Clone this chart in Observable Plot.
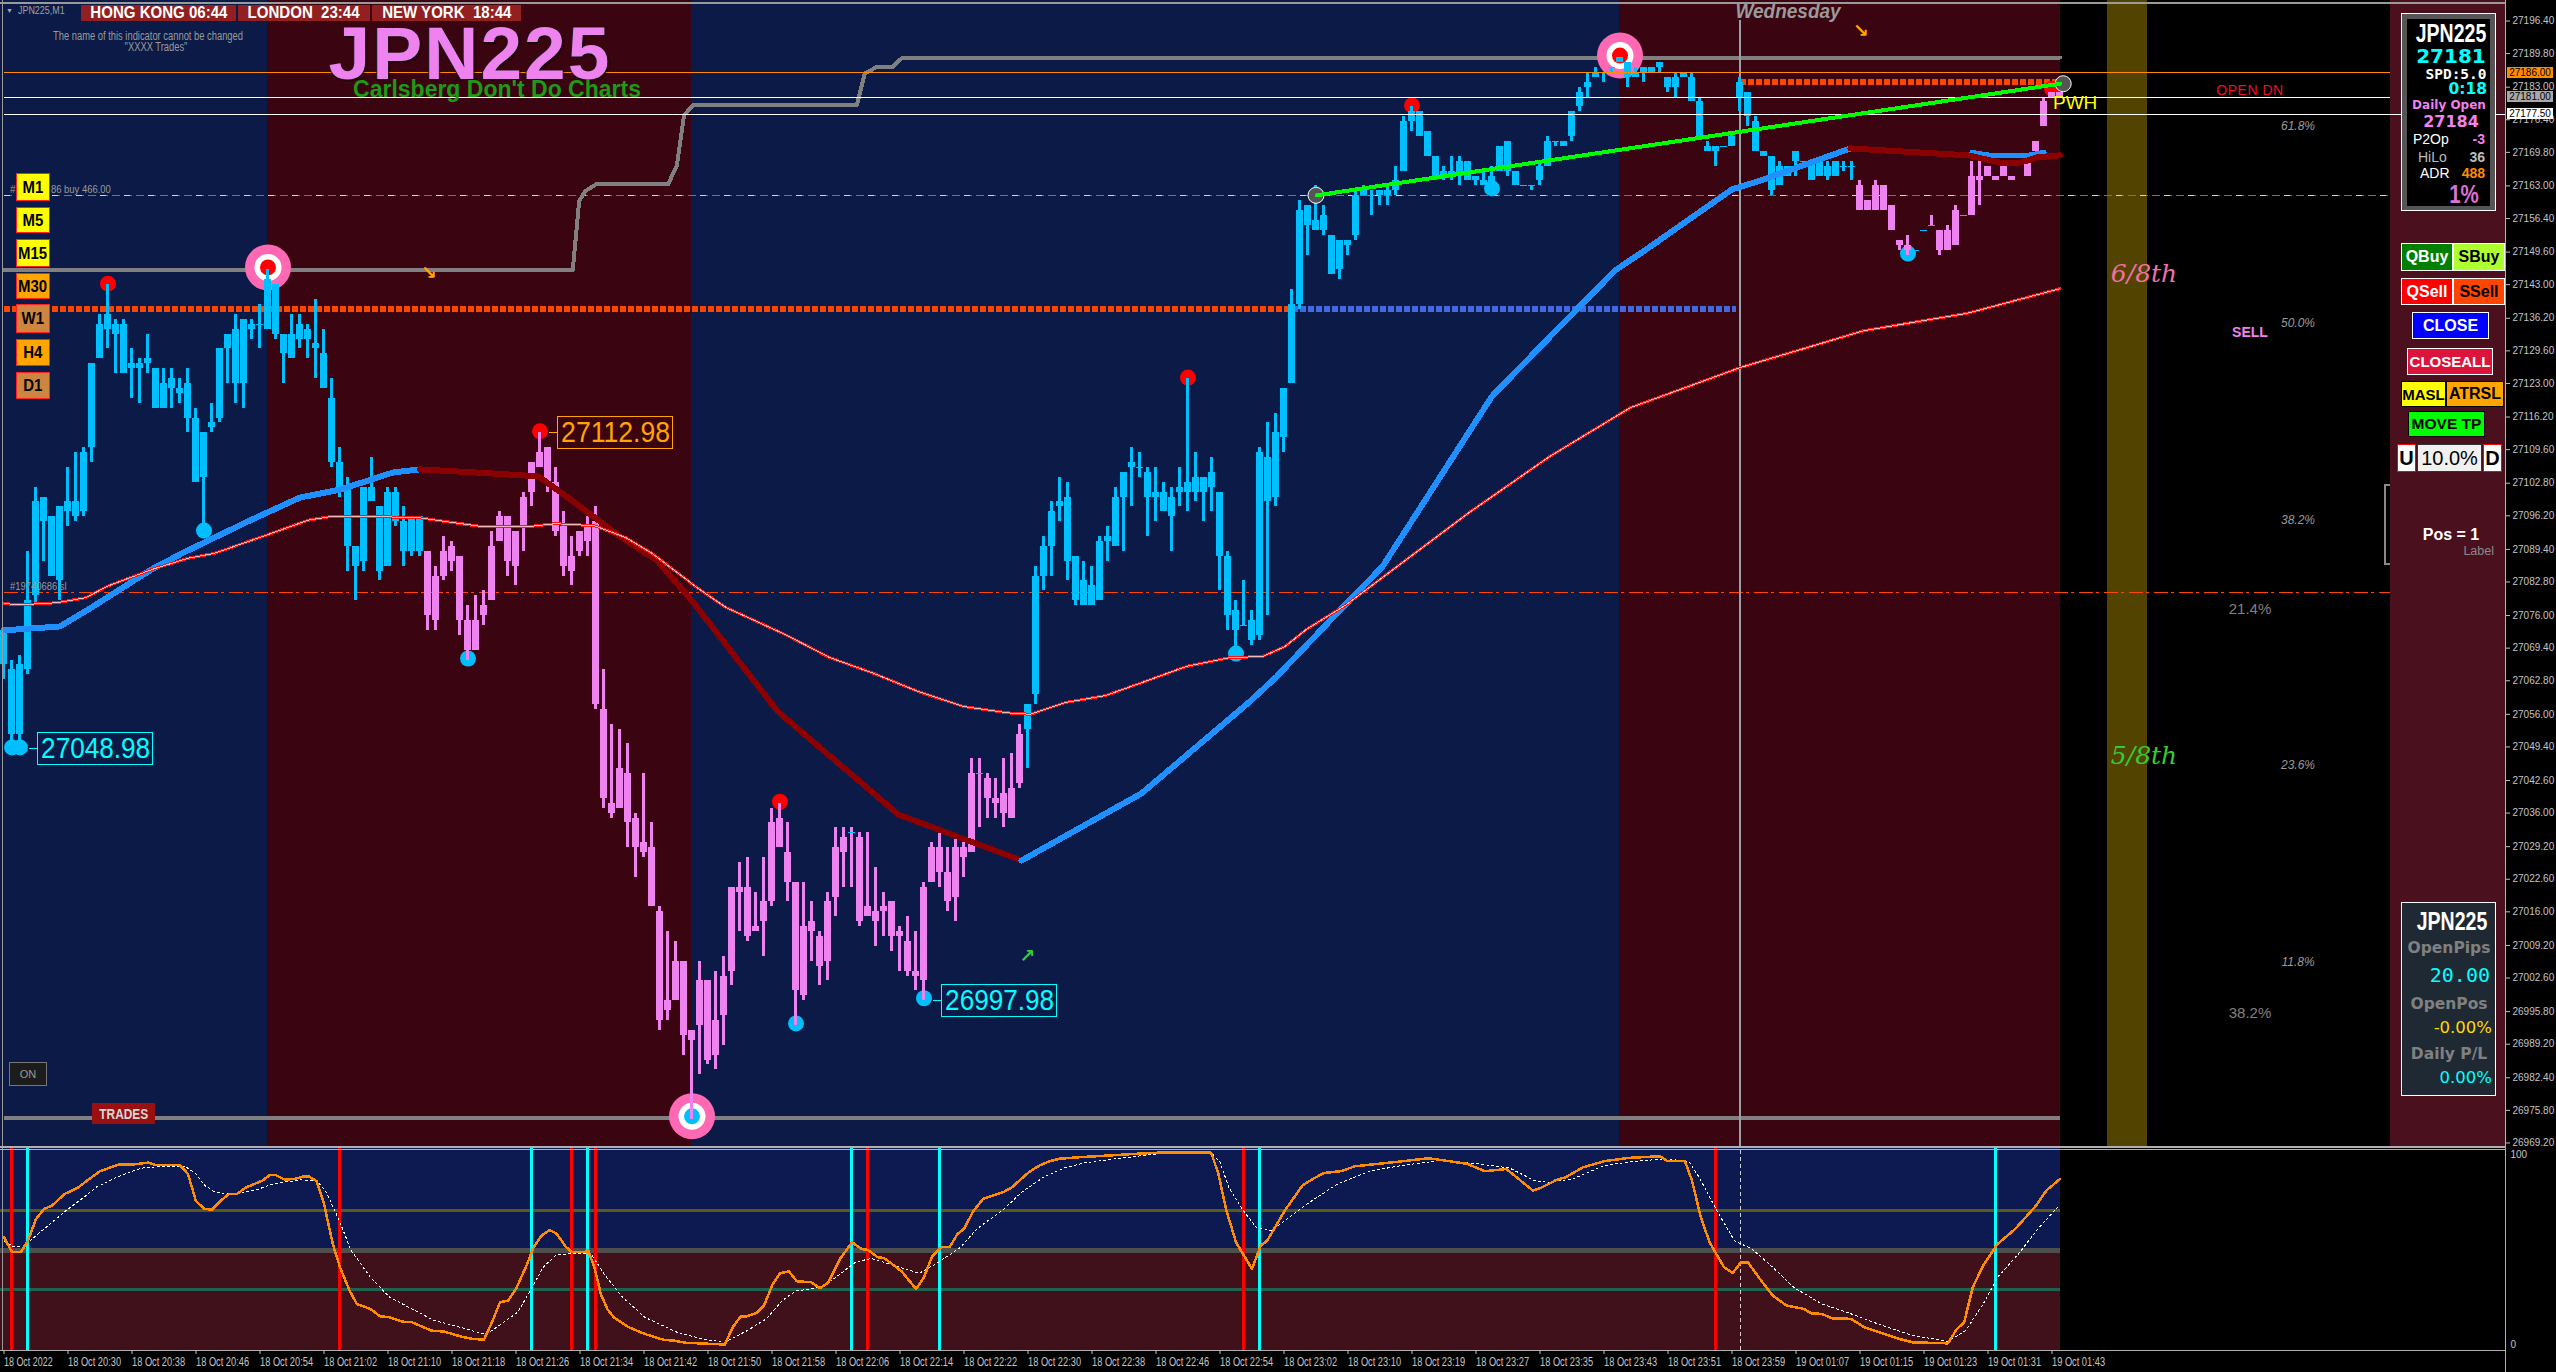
<!DOCTYPE html>
<html><head><meta charset="utf-8">
<script src="https://cdn.jsdelivr.net/npm/d3@7"></script>
<script src="https://cdn.jsdelivr.net/npm/@observablehq/plot@0.6"></script>
<style>
html,body{margin:0;padding:0;background:#000;width:2556px;height:1372px;overflow:hidden}
#root{position:relative;width:2556px;height:1372px;font-family:"Liberation Sans",Arial,sans-serif}
#root svg{position:absolute;left:0;background:transparent}
.t{position:absolute;white-space:pre;line-height:1}
.b{position:absolute;box-sizing:border-box;display:flex;align-items:center;justify-content:center;white-space:pre;line-height:1}
.b span{display:inline-block}
</style></head><body><div id="root"></div>
<script>
// ---- values are points above this base price
const priceBase = 27000;
const highs = [73,67,68,89,102,100,96,98,106,109,
110,127,137,143,136,136,130,128,133,126,
126,126,124,126,118,113,119,130,133,137,
136,136,139,146,143,133,137,137,135,140,
134,124,110,104,90,102,108,98,102,102,
98,96,96,89,86,92,91,88,78,80,
81,93,97,96,93,101,107,113,110,106,
97,92,93,96,98,65,54,53,50,36,
44,34,17,12,10,6,-8,6,2,4,
7,21,26,27,20,27,37,38,34,22,
22,18,12,20,33,33,33,32,32,25,
20,18,13,15,12,22,30,32,29,31,
30,47,47,44,43,47,48,54,58,86,
92,99,104,103,88,87,86,92,94,102,
105,110,109,106,106,103,102,106,124,109,
104,108,101,89,79,83,77,110,115,117,
122,142,160,159,163,159,153,152,152,162,
163,162,162,163,167,177,179,178,174,169,
167,169,169,168,165,166,167,171,172,166,
163,163,168,173,172,172,178,183,186,187,
186,187,189,188,187,187,187,188,185,186,
186,186,181,172,171,171,174,185,182,177,
170,169,168,167,170,168,168,168,168,168,
168,168,164,160,164,163,159,152,153,150,
154,157,154,155,159,157,168,170,167,165,
167,165,169,168,172,181,182,182];
const bodyTops = [73,65,66,79,99,100,96,98,99,99,
109,127,135,137,135,135,127,127,128,126,
123,124,122,123,116,113,115,130,133,134,
136,135,135,144,143,133,133,135,134,131,
129,120,107,102,90,102,102,98,101,101,
95,96,96,89,84,89,90,88,75,75,
78,90,96,96,93,100,107,109,110,103,
94,88,93,94,95,57,38,45,44,35,
30,29,16,-2,6,6,-8,2,2,-6,
3,21,21,21,13,18,34,35,28,22,
13,14,11,18,29,31,32,31,17,16,
17,18,12,10,4,21,29,29,24,29,
29,44,44,43,39,40,41,52,58,84,
90,97,99,100,88,83,82,91,92,100,
105,107,106,105,101,101,100,102,103,104,
104,105,101,88,77,74,75,109,108,113,
122,139,158,159,156,157,153,152,152,161,
162,161,162,162,164,176,178,178,174,169,
166,166,168,168,165,164,165,171,172,166,
163,163,167,172,172,172,178,182,184,186,
186,187,189,188,186,187,187,188,185,185,
186,185,180,171,171,171,173,184,182,176,
170,169,167,167,170,168,168,168,167,168,
167,167,163,160,163,163,159,152,151,150,
154,155,154,154,158,157,165,165,167,165,
167,165,169,168,172,180,182,182];
const bodyBottoms = [66,52,52,65,80,95,84,83,97,96,
97,110,128,134,133,125,126,126,127,118,
118,122,121,116,103,104,114,116,130,123,
123,134,135,134,133,129,128,132,132,130,
122,107,101,90,86,87,99,85,86,95,
89,89,89,76,75,84,87,75,69,69,
76,79,91,87,86,94,101,106,103,93,
86,85,89,91,58,39,36,37,34,29,
28,17,-6,-4,-2,-9,-10,-7,-14,-13,
-5,4,20,11,12,14,18,29,22,0,
-1,12,5,6,19,28,32,14,15,14,
16,11,11,4,3,2,22,24,18,19,
27,28,44,39,38,36,35,42,53,60,
84,90,98,87,79,78,78,79,91,90,
100,106,106,100,100,97,96,101,101,101,
101,102,88,76,73,74,71,72,99,100,
112,123,139,155,154,154,145,146,151,153,
161,161,161,161,162,166,176,173,169,165,
165,165,165,164,164,163,163,166,166,163,
163,163,164,167,172,171,173,179,183,185,
186,187,188,185,185,186,186,187,183,183,
185,180,173,170,170,171,171,181,177,170,
169,162,163,165,168,168,164,165,165,165,
167,167,158,158,158,158,154,151,150,150,
154,155,150,150,151,157,157,164,165,164,
165,164,169,165,170,175,181,181];
const lows = [63,49,49,64,78,87,84,79,94,95,
96,107,128,130,125,125,120,119,125,118,
118,118,119,113,103,93,113,115,123,119,
118,132,130,134,132,123,128,130,128,124,
122,106,100,85,79,85,99,83,86,94,
86,88,88,73,73,83,85,72,67,69,
74,79,91,84,82,89,98,106,101,92,
84,82,88,88,57,37,35,37,29,23,
27,17,-8,-6,-2,-13,-26,-17,-15,-16,
-11,1,12,10,12,7,17,29,18,-7,
-2,6,1,2,15,21,21,13,15,9,
11,8,4,3,0,-2,22,21,16,14,
23,28,33,35,35,33,35,41,45,58,
81,84,95,83,78,78,78,79,87,90,
89,98,104,92,95,97,89,98,97,99,
95,97,81,73,69,74,70,71,76,98,
109,123,138,149,154,153,145,144,149,152,
161,157,159,159,161,166,174,173,169,164,
164,164,163,164,163,163,161,166,165,163,
163,162,163,167,171,171,172,178,181,185,
184,186,188,183,185,184,186,186,182,181,
185,180,173,170,167,171,171,178,175,170,
169,161,163,165,165,168,164,165,164,165,
166,164,158,158,158,158,154,150,149,150,
154,155,149,150,151,157,157,159,165,164,
165,164,169,165,170,175,181,181];
const bearRuns = [[53,127],[232,257]];

// moving averages: bar position / points above base
const stepK = [0,71.1,71.9,72.7,74,83,84.1,85,86.1,106.6,107.6,109,111,112.3,257];
const stepP = [146,146,160,162,163.3,163.3,167.1,177.3,179.3,179.3,185.8,187,187,189,189];
const fastUp1K = [0,7,10.7,18.6,22.5,30.8,37,42,48.7,52];
const fastUp1P = [73,73.8,77.4,85.5,88.8,95.3,99.9,101.5,105,105.6];
const fastDn1K = [52,58.7,66.8,71,77,81.6,86,96.7,104.8,111.8,127.2];
const fastDn1P = [105.6,105,104.2,99.3,92,87.2,79,56.6,45.4,35.7,26.4];
const fastUp2K = [127.2,142.2,155.6,159,167.3,172.3,186,194,201.4,205.6,212.2,216,219.6,230.8];
const fastUp2P = [26.4,40,58.4,63.5,77.6,85.9,120.4,133.7,145.9,150.5,158,162.3,164.1,170.6];
const fastDn2K = [230.8,245.5,249.6,252,254.2,257];
const fastDn2P = [170.6,169.2,167.7,167.7,168.8,169.2];
const fastUp3K = [246,248.3,253,255];
const fastUp3P = [169.8,169.2,169.2,169.8];
const slowK = [0,2.3,6.6,10.2,13,18.8,23,26.3,33,38,41,51.5,59.8,65.5,68.9,73.8,77.7,81,86.6,89,90.3,97.6,103.2,108.7,114.3,119.9,125.5,128.3,132.7,137.7,142.2,147.8,153.3,157.3,160.1,162.8,167.8,183,193.2,203.3,217,232.5,245.4,257];
const slowP = [78.4,78.2,78.6,79.6,82,85.5,87.6,88.6,92.4,95.3,96.1,95.9,94,94,94.6,94.2,91.8,88.6,81.7,79,77.6,72.2,67.5,64.3,60.6,57.6,56.3,56,58.4,59.8,62.4,65.7,67.5,67.7,69.7,73.2,78.2,96.7,108.2,118.1,126.2,133.7,137.2,142.2];
const trendK = [164.1,257];
const trendP = [161.1,183.7];

// levels (points above base)
const supportLevel = 138, resistanceLevel = 184, ceilingLevel = 186, whiteLevels = [181,177.5];
const buyLevel = 161, stopLevel = 80.6, floorLevel = -25.8;

// swing markers
const redDotK = [13,67,97,148,176,256];
const redDotP = [143.2,113.3,38.3,124.2,179.3,182.7];
const blueDotK = [1,2,25,58,99,115,154,186,238];
const blueDotP = [49.3,49.3,93.2,67.3,-6.6,-1.5,68.3,162.5,149.3];
const ringK = [33,86,202];
const ringP = [146.5,-25.4,189.4];
const ringCore = ["#ff0000","#00bfff","#ff0000"];
const valueLabelK = [67,2,115];
const valueLabelP = [112.98,48.98,-2.02];
const valueLabelColor = ["#ffa500","#00ffff","#00ffff"];

const sessionStart = [-0.4375,32.9,85.9,201.9];
const sessionEnd = [32.9,85.9,201.9,257];
const sessionFill = ["#0b1a46","#3a0410","#0b1a46","#3a0410"];

const priceTicks = [27196.4,27189.8,27183,27176.4,27169.8,27163,27156.4,27149.6,27143,27136.2,27129.6,27123,27116.2,27109.6,27102.8,27096.2,27089.4,27082.8,27076,27069.4,27062.8,27056,27049.4,27042.6,27036,27029.2,27022.6,27016,27009.2,27002.6,26995.8,26989.2,26982.4,26975.8,26969.2];
const timeLabels = ["18 Oct 2022","18 Oct 20:30","18 Oct 20:38","18 Oct 20:46","18 Oct 20:54","18 Oct 21:02","18 Oct 21:10","18 Oct 21:18","18 Oct 21:26","18 Oct 21:34","18 Oct 21:42","18 Oct 21:50","18 Oct 21:58","18 Oct 22:06","18 Oct 22:14","18 Oct 22:22","18 Oct 22:30","18 Oct 22:38","18 Oct 22:46","18 Oct 22:54","18 Oct 23:02","18 Oct 23:10","18 Oct 23:19","18 Oct 23:27","18 Oct 23:35","18 Oct 23:43","18 Oct 23:51","18 Oct 23:59","19 Oct 01:07","19 Oct 01:15","19 Oct 01:23","19 Oct 01:31","19 Oct 01:43"];

// oscillator
const oscK = [0,1,2.1,3,4,5,6,7.6,9.2,10.4,12,13.1,14.3,16,18,19.1,22,23,24,25.1,26,27.1,28.1,29.1,30.3,32.3,33.2,34,35.1,36.3,37.5,38.1,39.1,40,41.1,42,43.2,44.1,45.8,47,48.2,49.8,51,53.4,55,57.4,58.6,60,61,62,63,64,65.4,66.2,67.2,68.2,69.1,70.2,71,72.6,73,73.8,74.6,75.4,76.3,78.1,80.1,82.5,83.7,85.3,86.9,90.1,91.1,92.1,92.9,94.1,95,96.1,97,98.1,99.1,100.9,102,103,104.5,106,107.2,108,109.2,110,112.2,114,115,116,117.2,118.2,119.2,120,121.2,122.4,125,125.9,128.1,129.4,130.7,132,135.1,138.6,141.3,144.3,150.9,151.8,152.8,154,156,157.1,157.9,160.1,162.3,163.6,165,167.1,168.9,173.7,178.1,180.7,182.9,185.1,187.8,191.1,192.1,193.9,195.2,197.4,200,203.1,207,207.9,210.1,211,212.1,213.2,215,216.1,217.1,218,219.8,221.1,222.8,225,225.9,227.2,228.5,230.9,232.5,233.8,236.9,238.6,243,244.1,245,246.1,247.4,249.2,251.4,252.7,254,255.3,257];
const oscV = [56.4,48.9,48.9,54.7,65.6,70.6,72.3,78.2,81.2,84.9,89.6,91.2,92.9,92.9,93.9,92.6,92.6,88.2,74.5,70.6,70.3,74.8,78,78.2,81.5,84.9,87.6,87.6,85.4,85.7,87,87,84.5,73.2,53,41.3,29.6,22.9,20.4,16.7,16.2,14,13.7,9.5,9,6.2,5.3,5,13.7,23.7,24.6,30.4,43,51.4,57.2,60.1,58.1,51.7,48.9,48.9,50,41.3,27.9,20.4,15.9,11.2,7.8,4.8,4.5,3.3,3.1,2.5,11.2,16.7,16.7,18.4,22.1,33,38.3,39.3,34.3,33.8,30.8,33.5,45.5,53.9,50.5,50,46.4,46,39.3,30.4,36.3,46.7,51.4,51.4,58.1,60.6,69.8,75.7,79.3,81.2,89.1,92.4,94.6,95.9,96.8,97.6,98.3,98.9,98.9,88.2,69.8,53.9,40.5,52.2,54.7,69.8,82.4,85.7,88.7,89.6,92.1,94.1,96.1,94.6,93.3,89.6,90.7,79.9,81.2,84.9,86.6,91.6,94.6,96.3,97.1,94.8,94.8,84.9,66.4,53.9,41.3,38.5,43.7,43.7,33.8,27.1,22.1,20.4,18.2,17.9,15.7,15.4,11.2,9.5,5.3,3.6,3.1,10.3,13.4,31.3,42.2,53,60.6,66.4,72.3,79.9,85.7];
const sigK = [0,1.2,2.4,4,6,8,10,11.5,14,17.1,19.5,22.7,24,25.1,26.3,27.5,29.5,31.5,33.9,37.1,39.1,40.3,41.9,43.4,45.8,48.2,50.6,53.8,57,60.2,62.2,64.2,65.8,67.4,69,71.4,73.4,75,77.3,80.1,84.1,87.3,90.1,92.9,95.3,97.3,98.9,102,104,106.4,108.4,111.2,114.4,116.8,119.6,121.6,125,127.2,129.9,132.5,135.1,139.5,144.8,150.9,152,153.1,154.9,156.6,158.4,160.1,163.2,166.7,170.7,174.6,179.4,184.2,188.2,191.3,193,196.1,200,203.5,207.5,210.6,211.9,214.1,216.3,218.5,221.1,223.7,227.2,230.7,234.2,238.6,243,245.2,247.4,249.2,251.8,254.4,257];
const sigV = [54.2,51.7,51.4,57.2,63.9,70.6,76.5,81.5,86.5,91.1,91.9,91.9,88.2,82.4,79.3,78.2,78.5,80.2,83.5,85.2,84.9,79,64.8,49.7,36.3,26.3,21.2,14.5,11.2,7.5,12.9,18.7,29.6,41.3,47.5,48.4,48,38,26.3,16.2,8.7,5.3,3.6,9.5,15.4,24.6,29.3,31.3,36.3,43.8,45.8,42.2,38.3,43.8,51.4,60.6,70.6,79,86.5,91.2,93.8,96.1,98.6,98.9,94.1,81.5,69.8,61.1,59.8,64.8,74,83.2,89.6,92.4,94.9,93.3,91.2,84.9,84,85.7,92.4,94.4,95.8,94.6,86.5,69.8,54.7,50.5,41.3,31.3,22.9,18.2,12.9,7,4.1,9.5,22.9,36.3,48,61.4,72.8];
const redSignals = [1,42,71,74,108,155,214];
const cyanSignals = [3,66,73,106,117,157,249];
const oscLevels = [70,50,30];
const oscLevelColor = ["#5a5a14","#4e4e4e","#1d6350"];
const oscLevelWidth = [3,5,3];

// ---- scales shared by both panels
const xDomain = [-0.4375, 312.6875], xRange = [0, 2505];
const price = d => priceBase + d;
const pts = (xs, ys) => xs.map((x, i) => ({x, y: price(ys[i])}));
const bars = highs.map((_, k) => ({k, high: price(highs[k]), low: price(lows[k]), top: price(bodyTops[k]), bot: price(bodyBottoms[k]),
  bear: bearRuns.some(([a, b]) => k >= a && k <= b)}));
const bull = bars.filter(d => !d.bear), bear = bars.filter(d => d.bear);
const doji = bars.filter(d => d.top === d.bot);
const yTop = 27200.55, yBot = 26968.08, chartEnd = 257, xLines = 298.3;
const crisp = {shapeRendering: "crispEdges"};
const line = (xs, ys, stroke, strokeWidth, extra) => Plot.line(pts(xs, ys), {x: "x", y: "y", stroke, strokeWidth, strokeLinejoin: "round", ...crisp, ...extra});
const hline = (p, x1, x2, stroke, strokeWidth, extra) => Plot.ruleY([price(p)], {x1, x2, stroke, strokeWidth, ...crisp, ...extra});
const candles = (data, fill) => [
  Plot.ruleX(data, {x: "k", y1: "low", y2: "high", stroke: fill, strokeWidth: 3, dx: -0.5, ...crisp}),
  Plot.rect(data.filter(d => d.top !== d.bot), {x1: d => d.k - 0.4375, x2: d => d.k + 0.4375, y1: "bot", y2: "top", fill, ...crisp})
];
const F = "Liberation Sans";

const main = Plot.plot({
  width: 2556, height: 1148, marginTop: 0, marginLeft: 0, marginBottom: 0, marginRight: 51,
  x: {domain: xDomain, range: xRange, axis: null},
  y: {domain: [yTop, yBot], range: [0, 1148], axis: null},
  style: {background: "transparent", fontFamily: F},
  marks: [
    Plot.rect(sessionStart.map((s, i) => ({s, e: sessionEnd[i], c: sessionFill[i]})), {x1: "s", x2: "e", y1: yBot, y2: yTop, fill: d => d.c, ...crisp}),
    Plot.rect([0], {x1: 262.9, x2: 267.9, y1: yBot, y2: yTop, fill: "#524400", ...crisp}),
    Plot.rect([0], {x1: 298.3, x2: 312.6875, y1: yBot, y2: yTop, fill: "#4a101e", ...crisp}),
    hline(buyLevel, 0, xLines, "#3f9a3f", 1, {strokeDasharray: "8,4"}),
    hline(buyLevel, 0, xLines, "#e8e840", 1, {strokeDasharray: "6,18"}),
    hline(stopLevel, 0, xLines, "#ff4500", 1, {strokeDasharray: "14,3,3,5"}),
    hline(floorLevel, 0, chartEnd, "#808080", 4),
    line(stepK, stepP, "#808080", 4),
    Plot.ruleX([217], {y1: yBot, y2: price(196.4), stroke: "#9aa0a8", strokeWidth: 2, ...crisp}),
    hline(supportLevel, 0, 161, "#ff4500", 6, {strokeDasharray: "6,2"}),
    hline(supportLevel, 161, 216.5, "#4169e1", 6, {strokeDasharray: "6,2"}),
    hline(resistanceLevel, 217.1, chartEnd, "#ff4500", 6, {strokeDasharray: "6,2"}),
    Plot.dot(ringK.map((k, i) => ({k, p: price(ringP[i])})), {x: "k", y: "p", r: 23, fill: "#ff69b4"}),
    Plot.dot(ringK.map((k, i) => ({k, p: price(ringP[i])})), {x: "k", y: "p", r: 13.5, fill: "#fff"}),
    Plot.dot(ringK.map((k, i) => ({k, p: price(ringP[i]), c: ringCore[i]})), {x: "k", y: "p", r: 8, fill: d => d.c}),
    Plot.dot(pts(redDotK, redDotP), {x: "x", y: "y", r: 8, fill: "#ff0000"}),
    Plot.dot(pts(blueDotK, blueDotP), {x: "x", y: "y", r: 8, fill: "#00bfff"}),
    ...candles(bull, "#00bfff"),
    ...candles(bear, "#ee82ee"),
    Plot.ruleY(doji, {x1: d => d.k - 0.4375, x2: d => d.k + 0.4375, y: "top", stroke: "#00bfff", strokeWidth: 1, ...crisp}),
    hline(ceilingLevel, 0, xLines, "#ff8c00", 1),
    hline(whiteLevels[0], 0, xLines, "#ffffff", 1),
    hline(whiteLevels[1], 0, 312.6875, "#ffffff", 1),
    line(fastUp1K, fastUp1P, "#1e90ff", 6),
    line(fastDn1K, fastDn1P, "#8b0000", 6),
    line(fastUp2K, fastUp2P, "#1e90ff", 6),
    line(fastUp3K, fastUp3P, "#1e90ff", 5),
    line(fastDn2K, fastDn2P, "#8b0000", 6),
    line(slowK, slowP, "#ff1414", 3),
    line(slowK, slowP, "#f5b8b8", 1),
    Plot.dot(pts([164, 257.4], [161.1, 183.7]), {x: "x", y: "y", r: 8, fill: "#555", stroke: "#fff", strokeWidth: 1}),
    line(trendK, trendP, "#00ff00", 4),
    Plot.text(pts([53.1, 232.1], [145.3, 194.3]), {x: "x", y: "y", text: () => "↘", fill: "#ffa500", fontSize: 19, fontWeight: "bold", fontFamily: "DejaVu Sans"}),
    Plot.text(pts([127.9], [7]), {x: "x", y: "y", text: () => "↗", fill: "#32cd32", fontSize: 19, fontWeight: "bold", fontFamily: "DejaVu Sans"}),
    Plot.rect(valueLabelK.map((k, i) => ({k, p: price(valueLabelP[i]), c: valueLabelColor[i]})), {x1: d => d.k + 2.3, x2: d => d.k + 16.6, y1: d => d.p - 3.2, y2: d => d.p + 3.2, stroke: d => d.c, fill: "none", strokeWidth: 1, ...crisp}),
    Plot.link(valueLabelK.map((k, i) => ({k, p: price(valueLabelP[i]), c: valueLabelColor[i]})), {x1: d => d.k + 1.1, x2: d => d.k + 2.3, y1: "p", y2: "p", stroke: d => d.c, ...crisp}),
    Plot.text(valueLabelK.map((k, i) => ({k, p: price(valueLabelP[i]), c: valueLabelColor[i]})), {x: d => d.k + 9.45, y: "p", text: d => d.p.toFixed(2), fill: d => d.c, fontSize: 29, fontFamily: F}),
    Plot.ruleX([-0.2], {y1: yBot, y2: yTop, stroke: "#9a9a9a", strokeWidth: 1.5, ...crisp}),
    Plot.ruleY([yTop - 0.5], {x1: -0.4375, x2: 312.6875, stroke: "#9a9a9a", strokeWidth: 1.5, ...crisp}),
    Plot.ruleY([yBot + 0.35], {x1: -0.4375, x2: 312.6875, stroke: "#b0b0b0", strokeWidth: 2, ...crisp}),
    Plot.ruleX([312.6875], {y1: yBot, y2: yTop, stroke: "#b0b0b0", strokeWidth: 1.5, ...crisp}),
    Plot.axisY(priceTicks, {anchor: "right", tickSize: 4, tickPadding: 3, tickFormat: d => d.toFixed(2), fill: "#c4c4c4", stroke: "#c4c4c4", fontSize: 10, label: null})
  ]
});
main.style.top = "0px";

const sigPts = (xs, ys) => xs.map((x, i) => ({x, y: ys[i]}));
const osc = Plot.plot({
  width: 2556, height: 224, marginTop: 0, marginLeft: 0, marginBottom: 22, marginRight: 51,
  x: {domain: xDomain, range: xRange, axis: null},
  y: {domain: [100, 0], range: [2, 201], axis: null},
  style: {background: "transparent", fontFamily: F},
  marks: [
    Plot.rect([0], {x1: -0.4375, x2: chartEnd, y1: 50, y2: 101, fill: "#0d1a52", ...crisp}),
    Plot.rect([0], {x1: -0.4375, x2: chartEnd, y1: -0.5, y2: 50, fill: "#40101b", ...crisp}),
    ...oscLevels.map((v, i) => Plot.ruleY([v], {x1: -0.4375, x2: chartEnd, stroke: oscLevelColor[i], strokeWidth: oscLevelWidth[i], ...crisp})),
    Plot.ruleX(redSignals, {y1: -0.5, y2: 101, stroke: "#ff0000", strokeWidth: 2.5, dx: -0.5, ...crisp}),
    Plot.ruleX(cyanSignals, {y1: -0.5, y2: 101, stroke: "#00ffff", strokeWidth: 2.5, dx: -0.5, ...crisp}),
    Plot.ruleX([217], {y1: -0.5, y2: 101, stroke: "#d0d0d0", strokeWidth: 1, strokeDasharray: "4,3", ...crisp}),
    Plot.line(sigPts(sigK, sigV), {x: "x", y: "y", stroke: "#ffffff", strokeWidth: 1, strokeDasharray: "2,3", ...crisp}),
    Plot.line(sigPts(oscK, oscV), {x: "x", y: "y", stroke: "#ff8c00", strokeWidth: 2.5, ...crisp}),
    Plot.ruleX([-0.2], {y1: -0.5, y2: 101, stroke: "#9a9a9a", strokeWidth: 1.5, ...crisp}),
    Plot.ruleY([-0.5], {x1: -0.4375, x2: 312.6875, stroke: "#b0b0b0", strokeWidth: 1.5, ...crisp}),
    Plot.ruleY([100.4], {x1: -0.4375, x2: 312.6875, stroke: "#b0b0b0", strokeWidth: 1.5, ...crisp}),
    Plot.ruleX([312.6875], {y1: -30, y2: 101, stroke: "#b0b0b0", strokeWidth: 1.5, ...crisp}),
    Plot.text([100], {x: 313.3, y: 98, text: d => String(d), textAnchor: "start", fill: "#c4c4c4", fontSize: 10}),
    Plot.text([0], {x: 313.3, y: 2.5, text: d => String(d), textAnchor: "start", fill: "#c4c4c4", fontSize: 10}),
    Plot.axisX(timeLabels.map((_, i) => i * 8), {anchor: "bottom", tickSize: 4, tickPadding: 3, textAnchor: "start", tickFormat: d => timeLabels[d / 8], fill: "#c4c4c4", stroke: "#c4c4c4", fontSize: 12, label: null})
  ]
});
osc.style.top = "1148px";

const root = document.getElementById("root");
root.append(main, osc);

// condense the SVG labels: no narrow face is installed
main.querySelectorAll('g[aria-label="text"] text').forEach(el => {
  if (/^\d+\.\d\d$/.test(el.textContent)) { el.setAttribute("textLength", 109); el.setAttribute("lengthAdjust", "spacingAndGlyphs"); }
});
osc.querySelectorAll('g[aria-label="x-axis tick label"] text').forEach(el => {
  el.setAttribute("textLength", el.textContent.length * 4.42); el.setAttribute("lengthAdjust", "spacingAndGlyphs");
});

function T(text, x, y, o = {}) {
  const d = document.createElement("div");
  d.className = "t"; d.textContent = text;
  const a = o.a || "l";
  const ax = {l: "0", c: "-50%", r: "-100%"}[a];
  Object.assign(d.style, {left: x + "px", top: y + "px", transform: `translate(${ax},-50%) scaleX(${o.sx || 1})`,
    transformOrigin: {l: "0 50%", c: "50% 50%", r: "100% 50%"}[a], color: o.c || "#fff", fontSize: (o.s || 12) + "px",
    fontWeight: o.b ? "bold" : "normal", fontStyle: o.i ? "italic" : "normal", fontFamily: o.f || F, letterSpacing: o.ls || "normal",
    textShadow: o.sh || "none", lineHeight: o.lh || 1});
  root.append(d);
}
function B(x0, y0, x1, y1, bg, border, text, color, size, o = {}) {
  const d = document.createElement("div");
  d.className = "b";
  Object.assign(d.style, {left: x0 + "px", top: y0 + "px", width: (x1 - x0) + "px", height: (y1 - y0) + "px", background: bg,
    border: border ? `${o.bw || 1}px solid ${border}` : "none", color: color || "#000", fontSize: (size || 14) + "px",
    fontWeight: o.n ? "normal" : "bold", fontFamily: o.f || F});
  if (text) { const s = document.createElement("span"); s.textContent = text; s.style.transform = `scaleX(${o.sx || 1})`; d.append(s); }
  root.append(d);
}
// top strip
T("▼", 6, 10, {c: "#aaa", s: 7}); T("JPN225,M1", 18, 10, {c: "#a0a0a0", s: 10.5, sx: 0.85});
B(81, 5, 236, 21, "#932020", null, "HONG KONG 06:44", "#fff", 16, {sx: 0.94});
B(238, 5, 370, 21, "#932020", null, "LONDON  23:44", "#fff", 16, {sx: 0.94});
B(372, 5, 521, 21, "#932020", null, "NEW YORK  18:44", "#fff", 16, {sx: 0.94});
T("The name of this indicator cannot be changed", 148, 36, {a: "c", c: "#9a9a9a", s: 12, sx: 0.78});
T('"XXXX Trades"', 156, 47, {a: "c", c: "#9a9a9a", s: 12, sx: 0.78});
T("JPN225", 470, 53, {a: "c", c: "#ee82ee", s: 75, b: 1, ls: "2px", lh: 0.7, sh: "1px 1px 2px #000,-1px 0 1px #223"});
T("Carlsberg Don't Do Charts", 497, 89, {a: "c", c: "#1d9a16", s: 23, b: 1, lh: 0.8});
// timeframe buttons
[["M1",173,201,"#ffff00"],["M5",207,233,"#ffff00"],["M15",239,267,"#ffff00"],["M30",273,299,"#ffa500"],["W1",304,333,"#cd853f"],["H4",339,366,"#ffa500"],["D1",372,399,"#cd853f"]]
  .forEach(([t, a, b, c]) => B(16, a, 50, b, c, "#ff2020", t, "#000", 17, {sx: 0.88}));
T("#", 10, 190, {c: "#9a9a9a", s: 10});
T("86 buy 466.00", 51, 190, {c: "#9a9a9a", s: 11.5, sx: 0.82});
T("#19740686 sl", 10, 587, {c: "#9a9a9a", s: 11.5, sx: 0.82});
B(9, 1062, 47, 1086, "#1c1c1c", "#777", "ON", "#999", 11, {n: 1});
B(92, 1103, 155, 1124, "#9a1010", null, "TRADES", "#d8d8d8", 14, {sx: 0.85});
// chart annotations
T("Wednesday", 1788, 11, {a: "c", c: "#9a9a9a", s: 20, i: 1, b: 1, sx: 0.95});
T("OPEN DN", 2250, 90, {a: "c", c: "#e8102a", s: 14, ls: "0.5px"});
T("PWH", 2053, 102, {c: "#ffff00", s: 19});
T("6/8th", 2144, 273, {a: "c", c: "#f070a8", s: 25, i: 1, f: "DejaVu Serif"});
T("5/8th", 2144, 755, {a: "c", c: "#32cd32", s: 25, i: 1, f: "DejaVu Serif"});
T("SELL", 2250, 332, {a: "c", c: "#ee82ee", s: 14, b: 1});
[["61.8%",126],["50.0%",323],["38.2%",520],["23.6%",765],["11.8%",962]].forEach(([t, y]) => T(t, 2298, y, {a: "c", c: "#9a9a9a", s: 12, i: 1}));
T("21.4%", 2250, 608, {a: "c", c: "#808080", s: 15});
T("38.2%", 2250, 1012, {a: "c", c: "#808080", s: 15});
// axis flags
B(2507, 67, 2553, 78, "#ff8c00", null, "27186.00", "#000", 10, {n: 1});
B(2507, 91, 2553, 102, "#a9a9a9", null, "27181.00", "#000", 10, {n: 1});
B(2507, 108, 2553, 119, "#fff", null, "27177.50", "#000", 10, {n: 1});
// top info box
B(2401, 13, 2496, 211, "#555", "#fff", "");
B(2407, 19, 2490, 206, "#000", null, "");
T("JPN225", 2451, 33, {a: "c", s: 25, b: 1, sx: 0.78});
T("27181", 2451, 56, {a: "c", c: "#00ffff", s: 20, b: 1, f: "DejaVu Sans"});
T("SPD:5.0", 2456, 74, {a: "c", s: 14.5, b: 1, f: "DejaVu Sans Mono"});
T("0:18", 2487, 90, {a: "r", c: "#00ffff", s: 15.5, b: 1, f: "DejaVu Sans"});
T("Daily Open", 2449, 105, {a: "c", c: "#ee82ee", s: 12, b: 1, f: "DejaVu Sans"});
T("27184", 2451, 122, {a: "c", c: "#ee82ee", s: 16, b: 1, f: "DejaVu Sans"});
T("P2Op", 2413, 139, {s: 14});
T("-3", 2485, 139, {a: "r", c: "#ee82ee", s: 14, b: 1});
T("HiLo", 2418, 157, {c: "#bbb", s: 14});
T("36", 2485, 157, {a: "r", c: "#bbb", s: 14, b: 1});
T("ADR", 2420, 173, {s: 14});
T("488", 2485, 173, {a: "r", c: "#ff8c00", s: 14, b: 1});
T("1%", 2464, 194, {a: "c", c: "#da70d6", s: 25, b: 1, sx: 0.82});
// order buttons
B(2401, 243, 2453, 271, "#008000", "#fff", "QBuy", "#fff", 16);
B(2453, 243, 2505, 271, "#adff2f", "#fff", "SBuy", "#000", 16);
B(2401, 278, 2453, 305, "#ff0000", "#fff", "QSell", "#fff", 16);
B(2453, 278, 2505, 305, "#ff4500", "#fff", "SSell", "#000", 16);
B(2412, 312, 2489, 339, "#0000ff", "#fff", "CLOSE", "#fff", 16);
B(2407, 348, 2493, 375, "#dc143c", "#fff", "CLOSEALL", "#fff", 15);
B(2401, 381, 2446, 407, "#ffff00", "#000", "MASL", "#000", 15);
B(2446, 381, 2504, 407, "#ffa500", "#000", "ATRSL", "#000", 16);
B(2408, 411, 2485, 437, "#00ff00", "#000", "MOVE TP", "#000", 15.5);
B(2397, 444, 2416, 472, "#fff", "#ff0000", "U", "#000", 20);
B(2417, 444, 2482, 472, "#f0f0f0", "#333", "10.0%", "#000", 20, {n: 1});
B(2483, 444, 2502, 472, "#fff", "#ff0000", "D", "#000", 20);
T("Pos = 1", 2451, 535, {a: "c", s: 16, b: 1});
T("Label", 2494, 551, {a: "r", c: "#8a8a8a", s: 12.5});
const br = document.createElement("div");
Object.assign(br.style, {position: "absolute", left: "2384px", top: "484px", width: "6px", height: "81px", boxSizing: "border-box", border: "2px solid #888", borderRight: "none"});
root.append(br);
// bottom info box
B(2401, 902, 2496, 1096, "#1f2933", "#fff", "");
T("JPN225", 2452, 921, {a: "c", s: 25, b: 1, sx: 0.78});
T("OpenPips", 2449, 949, {a: "c", c: "#808080", s: 15.5, b: 1, f: "DejaVu Sans"});
T("20.00", 2490, 975, {a: "r", c: "#00ffff", s: 20, f: "DejaVu Sans Mono"});
T("OpenPos", 2449, 1005, {a: "c", c: "#808080", s: 15.5, b: 1, f: "DejaVu Sans"});
T("-0.00%", 2492, 1028, {a: "r", c: "#ffd700", s: 16.5, f: "DejaVu Sans"});
T("Daily P/L", 2449, 1055, {a: "c", c: "#808080", s: 15.5, b: 1, f: "DejaVu Sans"});
T("0.00%", 2492, 1078, {a: "r", c: "#00ffff", s: 16.5, f: "DejaVu Sans"});
</script></body></html>
